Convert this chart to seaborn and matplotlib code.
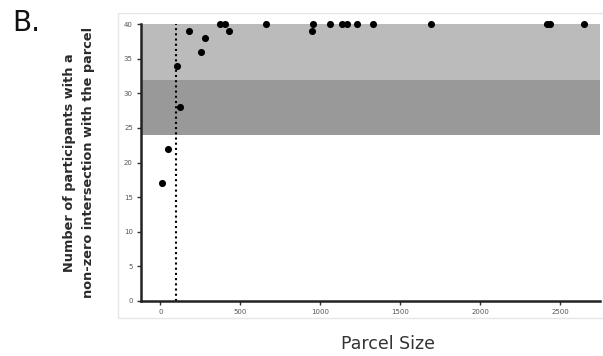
import numpy as np
import pandas as pd
import matplotlib
matplotlib.use("Agg")
import matplotlib.pyplot as plt
import seaborn as sns

# Parcel size vs number of participants with non-zero intersection
parcel_size = [12, 46, 104, 125, 179, 254, 281, 375, 406, 431, 660,
               950, 958, 1062, 1135, 1167, 1229, 1329, 1694, 2420, 2435, 2652]
n_participants = [17, 22, 34, 28, 39, 36, 38, 40, 40, 39, 40,
                  39, 40, 40, 40, 40, 40, 40, 40, 40, 40, 40]
x_ticks = [0, 500, 1000, 1500, 2000, 2500]
y_ticks = [0, 5, 10, 15, 20, 25, 30, 35, 40]
size_cutoff = 100
band_light = (32, 40)
band_dark = (24, 32)

df = pd.DataFrame({"size": parcel_size, "n": n_participants})

sns.set_style("white")
plt.rcParams['font.family'] = ['DejaVu Sans']

fig = plt.figure(figsize=(6.03, 3.56), dpi=100)
ax = fig.add_axes([0.234, 0.155, 0.761, 0.777])

# faint frame around the panel (screenshot border)
fig.patches.append(plt.Rectangle((118/603, 1-318/356), (603-118)/603, (318-13)/356,
                                 transform=fig.transFigure, fill=False,
                                 edgecolor='#e6e6e6', linewidth=1.0))

ax.axhspan(*band_light, color='#bbbbbb', zorder=0, lw=0)
ax.axhspan(*band_dark, color='#999999', zorder=0, lw=0)
ax.axvline(size_cutoff, color='black', linestyle=(0, (1, 1.5)), linewidth=1.5, zorder=1)

sns.scatterplot(data=df, x="size", y="n", color='black', s=26, edgecolor='black',
                linewidth=0, ax=ax, zorder=3, clip_on=False)

ax.set_xlim(-120, 2750)
ax.set_ylim(0, 40)
ax.set_xticks(x_ticks)
ax.set_yticks(y_ticks)
ax.tick_params(axis='both', labelsize=5, colors='#333333', length=3, width=1,
               direction='out', left=True, bottom=True, pad=3)
for lab in ax.get_xticklabels() + ax.get_yticklabels():
    lab.set_color('#555555')

sns.despine(ax=ax)
ax.spines['left'].set_linewidth(1.8)
ax.spines['bottom'].set_linewidth(1.8)
ax.spines['left'].set_color('#222222')
ax.spines['bottom'].set_color('#222222')

ax.set_xlabel("Parcel Size", fontsize=12.5, color='#333333')
ax.set_ylabel("Number of participants with a\nnon-zero intersection with the parcel",
              fontsize=9.3, fontweight='bold', color='#2a2a2a',
              linespacing=1.6)
ax.xaxis.set_label_coords(0.538, -0.125)
ax.yaxis.set_label_coords(-0.1, 0.5)

fig.text(0.02, 0.975, "B.", fontsize=20, fontweight='normal', color='#111111',
         ha='left', va='top')

fig.savefig("out.png", dpi=100)
